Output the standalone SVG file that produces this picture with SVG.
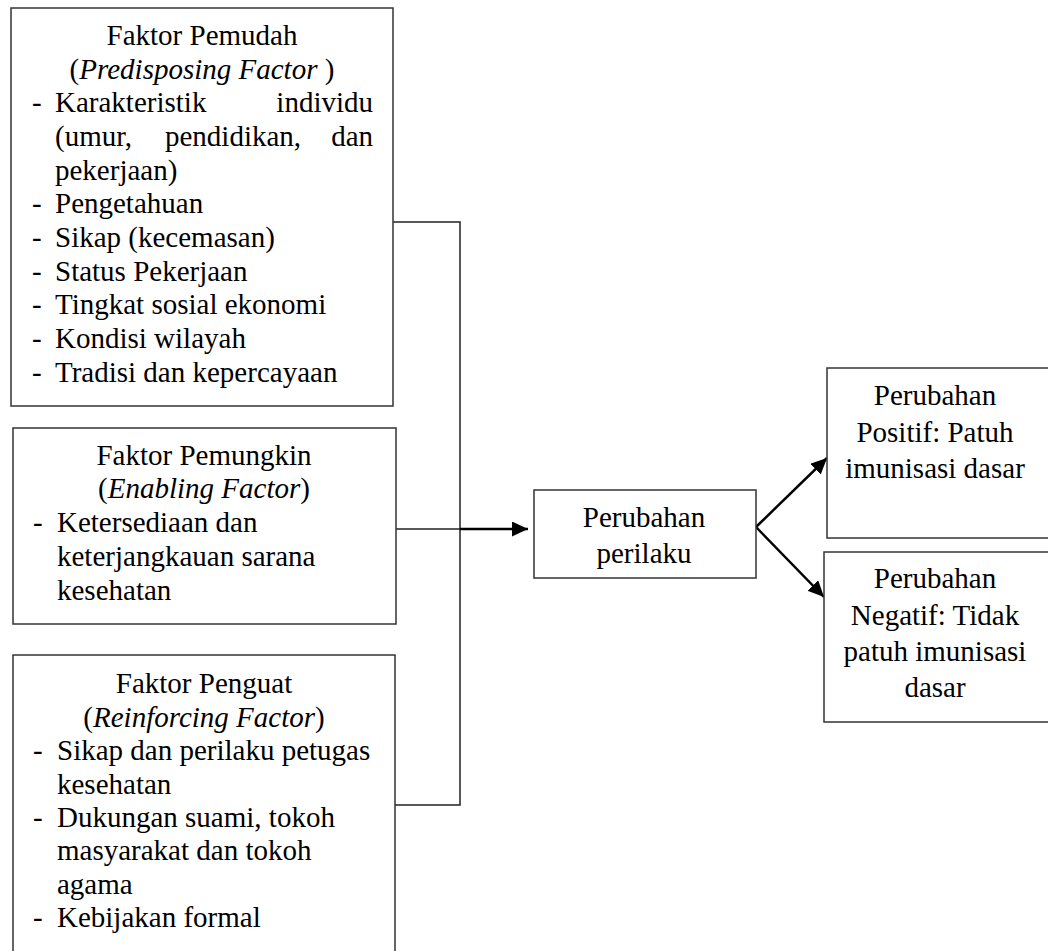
<svg xmlns="http://www.w3.org/2000/svg" width="1048" height="951" viewBox="0 0 1048 951">
<style>
.box{fill:#fff;stroke:#333;stroke-width:1.5}
text{font-family:'Liberation Serif','Times New Roman',serif;font-size:29px;fill:#000}
.c{text-anchor:middle}
.e{text-anchor:end}
.i{font-style:italic}
.ln{fill:none;stroke:#222;stroke-width:1.5}
.ar{fill:none;stroke:#000;stroke-width:2.5}
</style>
<defs>
<marker id="ah" markerUnits="userSpaceOnUse" markerWidth="18" markerHeight="16" refX="16" refY="7.5" orient="auto">
<path d="M0,0 L16,7.5 L0,15 Z" fill="#000"/>
</marker>
</defs>
<rect x="0" y="0" width="1048" height="951" fill="#fff"/>
<g id="connectors">
<polyline class="ln" points="393,222 460,222 460,805 394,805"/>
<line class="ln" x1="396" y1="529" x2="460" y2="529"/>
<line class="ar" x1="460" y1="529" x2="528" y2="529" marker-end="url(#ah)"/>
<line class="ar" x1="756" y1="527" x2="827" y2="458" marker-end="url(#ah)"/>
<line class="ar" x1="756" y1="527" x2="824" y2="597" marker-end="url(#ah)"/>
</g>
<g id="faktor-pemudah">
<rect class="box" x="11" y="8" width="382" height="398"/>
<text class="c" x="202" y="45">Faktor Pemudah</text>
<text class="c" x="202" y="79">(<tspan class="i">Predisposing Factor </tspan>)</text>
<text x="32" y="112">-</text><text x="55" y="112">Karakteristik</text><text class="e" x="373" y="112">individu</text>
<text x="55" y="146">(umur,</text><text x="165" y="146">pendidikan,</text><text class="e" x="373" y="146">dan</text>
<text x="55" y="180">pekerjaan)</text>
<text x="32" y="213">-</text><text x="55" y="213">Pengetahuan</text>
<text x="32" y="247">-</text><text x="55" y="247">Sikap (kecemasan)</text>
<text x="32" y="281">-</text><text x="55" y="281">Status Pekerjaan</text>
<text x="32" y="314">-</text><text x="55" y="314">Tingkat sosial ekonomi</text>
<text x="32" y="348">-</text><text x="55" y="348">Kondisi wilayah</text>
<text x="32" y="382">-</text><text x="55" y="382">Tradisi dan kepercayaan</text>
</g>
<g id="faktor-pemungkin">
<rect class="box" x="13" y="428" width="383" height="196"/>
<text class="c" x="204" y="465">Faktor Pemungkin</text>
<text class="c" x="204" y="498">(<tspan class="i">Enabling Factor</tspan>)</text>
<text x="33" y="532">-</text><text x="57" y="532">Ketersediaan dan</text>
<text x="57" y="566">keterjangkauan sarana</text>
<text x="57" y="600">kesehatan</text>
</g>
<g id="faktor-penguat">
<rect class="box" x="13" y="655" width="382" height="310"/>
<text class="c" x="204" y="693">Faktor Penguat</text>
<text class="c" x="204" y="727">(<tspan class="i">Reinforcing Factor</tspan>)</text>
<text x="33" y="760">-</text><text x="57" y="760">Sikap dan perilaku petugas</text>
<text x="57" y="794">kesehatan</text>
<text x="33" y="827">-</text><text x="57" y="827">Dukungan suami, tokoh</text>
<text x="57" y="860">masyarakat dan tokoh</text>
<text x="57" y="894">agama</text>
<text x="33" y="927">-</text><text x="57" y="927">Kebijakan formal</text>
</g>
<g id="perubahan-perilaku">
<rect class="box" x="534" y="490" width="222" height="88"/>
<text class="c" x="644" y="527">Perubahan</text>
<text class="c" x="644" y="563">perilaku</text>
</g>
<g id="perubahan-positif">
<rect class="box" x="827" y="368" width="230" height="170"/>
<text class="c" x="935" y="405">Perubahan</text>
<text class="c" x="935" y="442">Positif: Patuh</text>
<text class="c" x="935" y="478">imunisasi dasar</text>
</g>
<g id="perubahan-negatif">
<rect class="box" x="824" y="552" width="233" height="170"/>
<text class="c" x="935" y="588">Perubahan</text>
<text class="c" x="935" y="625">Negatif: Tidak</text>
<text class="c" x="935" y="661">patuh imunisasi</text>
<text class="c" x="935" y="697">dasar</text>
</g>
</svg>
